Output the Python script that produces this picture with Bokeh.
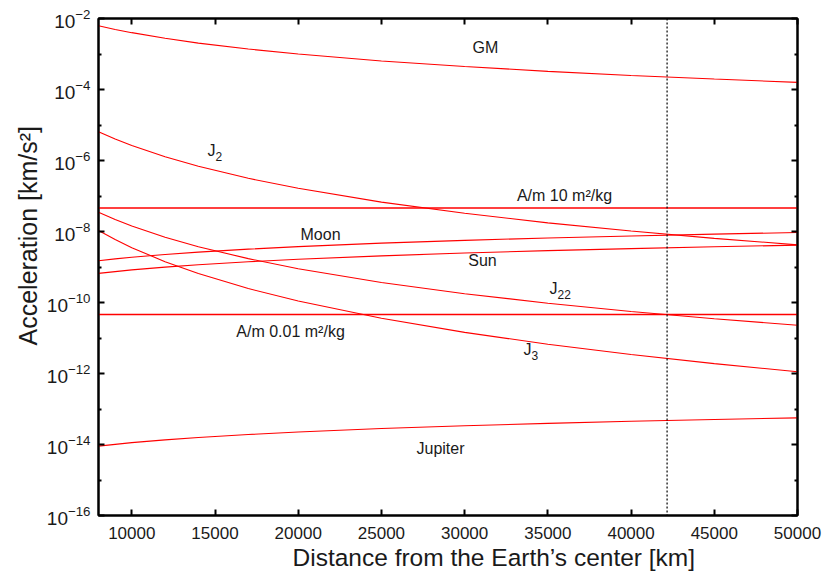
from bokeh.plotting import figure
from bokeh.models import Span, LinearAxis, LogAxis, FixedTicker, Label, Title, CustomJSTickFormatter
from bokeh.embed import file_html
from bokeh.resources import INLINE

# ---------------- data ----------------
r_km = [8000, 9000, 10000, 12000, 14000, 17000, 20000, 25000, 30000, 35000, 40000, 45000, 50000]

acc_gm = [6.23e-3, 4.92e-3, 3.99e-3, 2.77e-3, 2.03e-3, 1.38e-3, 9.97e-4, 6.38e-4,
          4.43e-4, 3.25e-4, 2.49e-4, 1.97e-4, 1.59e-4]
acc_j2 = [6.43e-6, 4.01e-6, 2.63e-6, 1.27e-6, 6.85e-7, 3.15e-7, 1.65e-7, 6.74e-8,
          3.25e-8, 1.75e-8, 1.03e-8, 6.42e-9, 4.21e-9]
acc_j22 = [3.5e-8, 2.19e-8, 1.43e-8, 6.92e-9, 3.73e-9, 1.72e-9, 8.96e-10, 3.67e-10,
           1.77e-10, 9.56e-11, 5.60e-11, 3.50e-11, 2.29e-11]
acc_j3 = [1.07e-8, 5.94e-9, 3.51e-9, 1.41e-9, 6.52e-10, 2.47e-10, 1.10e-10, 3.59e-11,
          1.44e-11, 6.68e-12, 3.42e-12, 1.90e-12, 1.12e-12]
acc_moon = [1.50e-9, 1.69e-9, 1.88e-9, 2.25e-9, 2.63e-9, 3.19e-9, 3.75e-9, 4.69e-9,
            5.63e-9, 6.56e-9, 7.50e-9, 8.44e-9, 9.38e-9]
acc_sun = [6.6e-10, 7.4e-10, 8.3e-10, 9.9e-10, 1.16e-9, 1.40e-9, 1.65e-9, 2.06e-9,
           2.48e-9, 2.89e-9, 3.30e-9, 3.71e-9, 4.13e-9]
acc_jupiter = [9.0e-15, 1.01e-14, 1.13e-14, 1.35e-14, 1.58e-14, 1.91e-14, 2.25e-14, 2.81e-14,
               3.38e-14, 3.94e-14, 4.50e-14, 5.06e-14, 5.63e-14]

r_span = [8000, 50000]
acc_srp_10 = [4.6e-8, 4.6e-8]      # A/m 10 m^2/kg
acc_srp_001 = [4.6e-11, 4.6e-11]   # A/m 0.01 m^2/kg

geo_radius = 42164

x_ticks = [10000, 15000, 20000, 25000, 30000, 35000, 40000, 45000, 50000]
y_major = [1e-16, 1e-14, 1e-12, 1e-10, 1e-8, 1e-6, 1e-4, 1e-2]
y_minor = [1e-15, 1e-13, 1e-11, 1e-9, 1e-7, 1e-5, 1e-3]

x_title = "Distance from the Earth’s center [km]"
y_title = "Acceleration [km/s²]"

# label texts and anchor points (data coords)
labels = [
    ("GM", 31250, 1.52e-3),
    ("A/m 10 m²/kg", 36000, 1.03e-7),
    ("Moon", 21340, 8.2e-9),
    ("Sun", 31075, 1.52e-9),
    ("A/m 0.01 m²/kg", 19540, 1.52e-11),
    ("Jupiter", 28550, 7.7e-15),
]
# J-labels with subscripts: (main, sub, x, y)
j_labels = [
    ("J", "2", 14790, 1.91e-6),
    ("J", "22", 35340, 2.48e-10),
    ("J", "3", 33780, 4.74e-12),
]

FONT = "Liberation Sans"
RED = "#ff0000"
INK = "#1a1a1a"

p = figure(width=830, height=574, x_range=(8000, 50000), y_range=(1e-16, 1e-2),
           y_axis_type="log", output_backend="svg", toolbar_location=None)
p.min_border_left = 98
p.min_border_right = 33
p.min_border_top = 18
p.min_border_bottom = 59
p.grid.visible = False
p.outline_line_color = "black"
p.outline_line_width = 2
p.background_fill_color = "white"
p.border_fill_color = "white"


def style_axis(ax):
    ax.axis_line_color = "black"
    ax.axis_line_width = 2
    ax.major_tick_in = 6
    ax.major_tick_out = 0
    ax.minor_tick_in = 3
    ax.minor_tick_out = 0
    ax.major_tick_line_width = 2
    ax.minor_tick_line_width = 2
    ax.major_label_text_font = FONT
    ax.major_label_text_font_size = "17px"
    ax.major_label_text_color = INK


xa = p.xaxis[0]
xa.ticker = FixedTicker(ticks=x_ticks, minor_ticks=[])
style_axis(xa)
xa.major_label_standoff = 11

ya = p.yaxis[0]
ya.ticker = FixedTicker(ticks=y_major, minor_ticks=y_minor)
style_axis(ya)
ya.major_label_text_font_size = "19px"
ya.major_label_standoff = 8

blank = CustomJSTickFormatter(code="return ''")
top = LinearAxis(ticker=FixedTicker(ticks=x_ticks, minor_ticks=[]), formatter=blank)
style_axis(top)
top.major_label_text_font_size = "0px"
p.add_layout(top, "above")
right = LogAxis(ticker=FixedTicker(ticks=y_major, minor_ticks=y_minor), formatter=blank)
style_axis(right)
right.major_label_text_font_size = "0px"
p.add_layout(right, "right")

# axis titles as offset titles (the reference has them off-centre)
p.add_layout(Title(text=x_title, align="left", offset=194, text_font=FONT,
                   text_font_size="24.5px", text_font_style="normal", text_color=INK,
                   standoff=0), "below")
p.add_layout(Title(text=y_title, align="left", offset=170, text_font=FONT,
                   text_font_size="25px", text_font_style="normal", text_color=INK,
                   standoff=3), "left")

for ys in [acc_gm, acc_j2, acc_j22, acc_j3, acc_moon, acc_sun, acc_jupiter]:
    p.line(r_km, ys, line_color=RED, line_width=1.1)
for ys in [acc_srp_10, acc_srp_001]:
    p.line(r_span, ys, line_color=RED, line_width=1.5)

p.add_layout(Span(location=geo_radius, dimension="height", line_color="black",
                  line_width=1.2, line_dash="2 2"))

for txt, x, y in labels:
    p.add_layout(Label(x=x, y=y, text=txt, text_font=FONT, text_font_size="16px",
                       text_align="center", text_baseline="middle", text_color=INK))
for main, sub, x, y in j_labels:
    p.add_layout(Label(x=x, y=y, text=main, text_font=FONT, text_font_size="16px",
                       text_align="center", text_baseline="middle", text_color=INK))
    p.add_layout(Label(x=x, y=y, x_offset=4, y_offset=-6, text=sub, text_font=FONT,
                       text_font_size="12px", text_align="left", text_baseline="middle",
                       text_color=INK))

open("out.html", "w").write(file_html(p, INLINE))
